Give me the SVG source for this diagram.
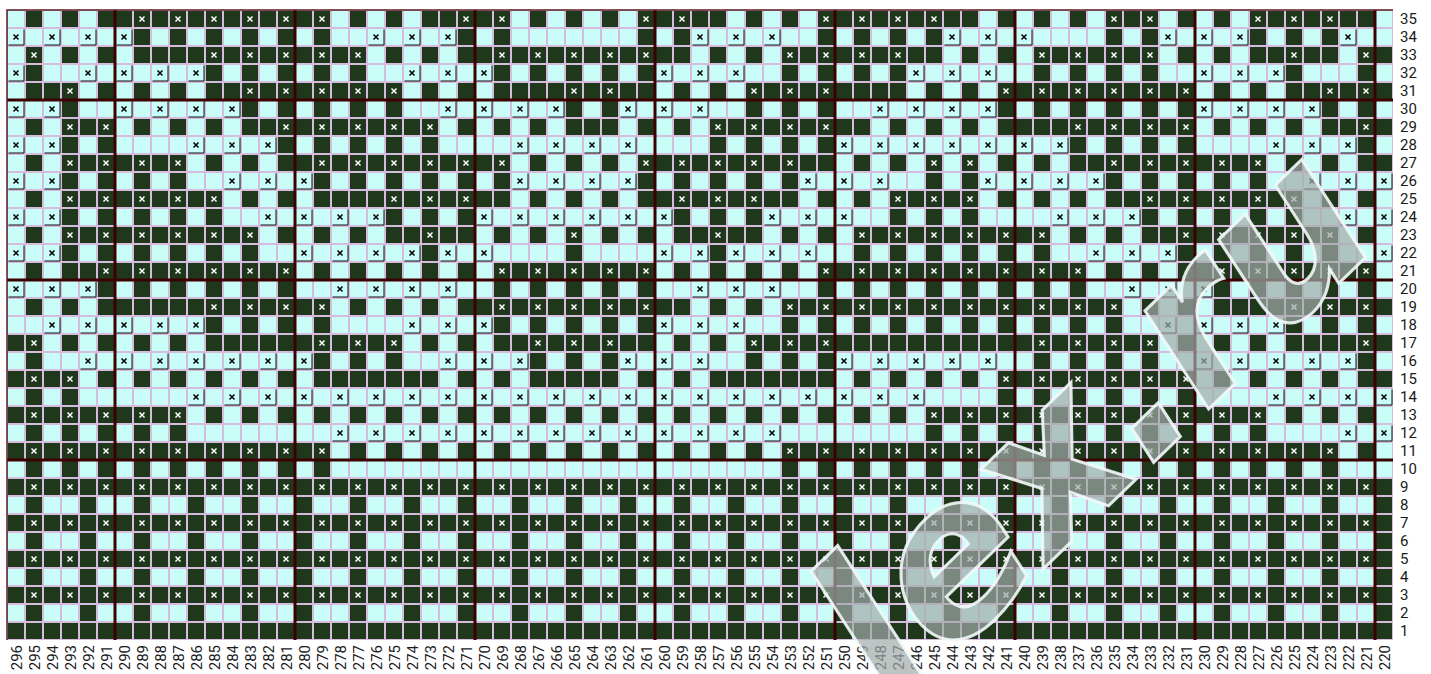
<svg xmlns="http://www.w3.org/2000/svg" width="1431" height="674" viewBox="0 0 1431 674">
<style>
.lt{fill:#c8fdf8}
.dk{fill:none;stroke:#1f381c;stroke-width:18}
.dkf{fill:#1f381c}
.thk{stroke:#3d0000;stroke-width:3;fill:none}
.lbl{font-family:Roboto,"Liberation Sans",sans-serif;font-size:15px;fill:#1a1a1a}
.wm{font-family:"DejaVu Sans",sans-serif;font-weight:bold;font-style:italic;font-size:210px;fill:#a3abaa;fill-opacity:.7;stroke:#f2faf9;stroke-width:3;stroke-opacity:.9}
</style>
<defs>
<pattern id="gp" x="7" y="10" width="18" height="18" patternUnits="userSpaceOnUse"><path d="M0 0H18M0 18H18M0 0V18M18 0V18" stroke="#d5bcdc" stroke-width="2" fill="none"/></pattern>
<g id="xd"><path d="M6.5 6.5l5 5M11.5 6.5l-5 5" stroke="#fff" stroke-width="1.5"/></g>
<g id="xl"><path d="M17 1.5V17H1.5" stroke="#111" stroke-width="1" fill="none"/><path d="M6.5 6.5l5 5M11.5 6.5l-5 5" stroke="#000" stroke-width="1.5"/></g>
<pattern id="xp" x="7" y="10" width="36" height="18" patternUnits="userSpaceOnUse"><use href="#xd" x="18"/></pattern>
</defs>
<rect class="lt" x="7" y="10" width="1386" height="630"/>
<g id="dark-cells">
<path class="dk" pathLength="77" d="M7 19h1386" stroke-dasharray="0 1,1 1,1 1,13 1,1 1,1 1,5 1,1 1,1 1,1 1,5 1,1 1,1 1,9 1,1 1,1 1,1 1,3 1,1 1,1 1,7 1"/>
<path class="dk" pathLength="77" d="M7 37h1386" stroke-dasharray="0 7,1 1,1 1,1 1,1 1,1 1,1 7,1 1,1 7,1 1,1 7,1 1,1 1,1 1,1 9,1 1,1 5,1 1,1 1,1 3"/>
<path class="dk" pathLength="77" d="M7 55h1386" stroke-dasharray="0 1,1 1,1 1,1 1,13 1,1 1,1 1,13 1,1 1,1 1,9 1,1 1,1 1,7 1,1 1,1 1,5 1,2 0"/>
<path class="dk" pathLength="77" d="M7 73h1386" stroke-dasharray="0 1,1 9,1 1,1 1,1 1,1 1,1 7,1 1,1 1,1 1,1 1,1 7,1 1,1 1,1 1,1 7,1 1,1 1,1 1,1 7,1 3,1 1"/>
<path class="dk" pathLength="77" d="M7 91h1386" stroke-dasharray="0 1,3 1,1 1,1 1,1 1,11 1,1 1,1 1,9 1,1 1,1 1,9 1,1 1,1 1,11 1,1 1,1 1,6 0"/>
<path class="dk" pathLength="77" d="M7 109h1386" stroke-dasharray="0 3,1 9,1 1,1 1,1 1,1 1,1 9,1 1,1 7,1 1,1 1,1 9,1 1,1 1,1 1,1 1,1 1,1 7,1 1,1 1"/>
<path class="dk" pathLength="77" d="M7 127h1386" stroke-dasharray="0 1,1 1,3 1,1 1,1 1,1 1,11 1,1 1,1 1,1 1,3 1,1 1,1 1,9 1,1 1,1 1,1 1,11 1,1 1,1 1,1 1,4 0"/>
<path class="dk" pathLength="77" d="M7 145h1386" stroke-dasharray="0 3,1 1,1 9,1 1,1 1,1 1,1 1,1 15,1 1,1 1,1 1,1 13,1 1,1 1,1 1,1 9,1 1"/>
<path class="dk" pathLength="77" d="M7 163h1386" stroke-dasharray="0 1,1 1,7 1,1 1,1 1,13 1,1 1,1 1,1 1,11 1,1 1,1 1,1 1,1 1,1 1,1 1,11 1,1 1,1 1,2 0"/>
<path class="dk" pathLength="77" d="M7 181h1386" stroke-dasharray="0 3,1 1,1 1,1 1,1 7,1 1,1 1,1 1,1 1,1 1,1 7,1 1,1 1,1 1,1 1,1 7,1 1,1 7,1 1,1 1,1 1,1 1,1 7"/>
<path class="dk" pathLength="77" d="M7 199h1386" stroke-dasharray="0 1,1 1,9 1,1 1,1 1,11 1,1 1,1 1,1 1,9 1,1 1,1 1,5 1,1 1,1 1,1 1,11 1,1 1,1 1"/>
<path class="dk" pathLength="77" d="M7 217h1386" stroke-dasharray="0 3,1 1,1 1,1 1,1 1,1 9,1 1,1 1,1 11,1 1,1 1,1 7,1 1,1 1,1 9,1 1,1 1,1 1,1 1,1 5"/>
<path class="dk" pathLength="77" d="M7 235h1386" stroke-dasharray="0 1,1 1,11 1,1 1,1 1,1 1,5 1,1 1,1 1,1 1,1 1,1 1,5 1,1 1,1 1,11 1,1 1,1 1,11 1,1 1"/>
<path class="dk" pathLength="77" d="M7 253h1386" stroke-dasharray="0 3,1 1,1 1,1 1,1 1,1 1,1 9,1 7,1 7,1 7,1 1,1 1,1 1,1 1,1 1,1 7,1 1,1 1,1 1,1 1,1 3"/>
<path class="dk" pathLength="77" d="M7 271h1386" stroke-dasharray="0 1,1 1,13 1,1 1,1 1,1 1,1 1,1 1,9 1,1 1,1 1,1 1,1 1,15 1,1 1,1 1,11 1"/>
<path class="dk" pathLength="77" d="M7 289h1386" stroke-dasharray="0 5,1 1,1 1,1 1,1 1,1 1,1 11,1 1,1 1,1 1,1 1,1 9,1 1,1 1,1 1,1 1,1 1,1 1,1 1,1 7,1 1,1 1,1 1,1 1,1 1"/>
<path class="dk" pathLength="77" d="M7 307h1386" stroke-dasharray="0 1,1 1,1 1,13 1,1 1,1 1,1 1,13 1,1 1,1 1,19 1,1 1,1 1,10 0"/>
<path class="dk" pathLength="77" d="M7 325h1386" stroke-dasharray="0 11,1 1,1 1,1 1,1 9,1 1,1 1,1 1,1 1,1 7,1 1,1 1,1 1,1 1,1 1,1 1,1 1,1 1,1 1,1 9,1 1,1 1,1 1"/>
<path class="dk" pathLength="77" d="M7 343h1386" stroke-dasharray="2 1,1 1,1 1,1 1,1 1,11 1,1 1,1 1,9 1,1 1,1 1,23 1,1 1,1 1,1 1,6 0"/>
<path class="dk" pathLength="77" d="M7 361h1386" stroke-dasharray="0 1,1 15,1 1,1 1,1 7,1 1,1 1,1 7,1 1,1 1,1 11,1 1,1 1,1 1,1 11,1 1"/>
<path class="dk" pathLength="77" d="M7 379h1386" stroke-dasharray="4 1,1 1,1 1,1 1,1 1,1 1,1 1,7 1,1 1,1 1,5 1,1 1,1 1,7 1,1 1,1 1,1 1,1 1,11 1,1 1,1 1,1 1,1 1,2 0"/>
<path class="dk" pathLength="77" d="M7 397h1386" stroke-dasharray="0 1,1 1,1 51,1 1,1 1,1 1,1 1,1 1,1 11"/>
<path class="dk" pathLength="77" d="M7 415h1386" stroke-dasharray="10 1,1 1,1 1,1 1,1 1,1 1,1 1,1 1,1 1,1 1,1 1,1 1,1 1,1 1,1 1,1 1,1 1,1 1,1 1,1 1,1 1,19 1,1 1,1 1,1 1"/>
<path class="dk" pathLength="77" d="M7 433h1386" stroke-dasharray="0 1,1 1,1 1,1 1,1 1,1 41,1 1,1 1,1 1,1 1,1 1,1 1,1 1,1 1,1 1,1 7"/>
<path class="dk" pathLength="77" d="M7 451h1386" stroke-dasharray="18 1,1 1,1 1,1 1,1 1,1 1,1 1,1 1,1 1,1 1,1 1,1 1,1 1,31 1,1 1"/>
<path class="dk" pathLength="77" d="M7 469h1386" stroke-dasharray="0 1,1 1,1 1,1 1,1 1,1 1,1 1,1 1,1 1,1 25,1 1,1 1,1 1,1 1,1 1,1 1,1 1,1 1,1 1,1 1,1 1,1 1,1 1,1 1,1 1,1 3"/>
<rect class="dkf" x="7" y="478" width="1386" height="18"/>
<path class="dk" pathLength="77" d="M7 505h1386" stroke-dasharray="0 1 1 1"/>
<rect class="dkf" x="7" y="514" width="1386" height="18"/>
<path class="dk" pathLength="77" d="M7 541h1386" stroke-dasharray="0 1 1 1"/>
<rect class="dkf" x="7" y="550" width="1386" height="18"/>
<path class="dk" pathLength="77" d="M7 577h1386" stroke-dasharray="0 1 1 1"/>
<rect class="dkf" x="7" y="586" width="1386" height="18"/>
<path class="dk" pathLength="77" d="M7 613h1386" stroke-dasharray="0 1 1 1"/>
<rect class="dkf" x="7" y="622" width="1386" height="18"/>
</g>
<rect id="grid-lines" x="7" y="10" width="1386" height="630" fill="url(#gp)"/>
<g id="marks">
<g transform="translate(0,10)"><use href="#xd" x="133"/><use href="#xd" x="169"/><use href="#xd" x="205"/><use href="#xd" x="241"/><use href="#xd" x="277"/><use href="#xd" x="313"/><use href="#xd" x="457"/><use href="#xd" x="493"/><use href="#xd" x="637"/><use href="#xd" x="673"/><use href="#xd" x="817"/><use href="#xd" x="853"/><use href="#xd" x="889"/><use href="#xd" x="925"/><use href="#xd" x="1105"/><use href="#xd" x="1141"/><use href="#xd" x="1249"/><use href="#xd" x="1285"/><use href="#xd" x="1321"/></g>
<g transform="translate(0,28)"><use href="#xl" x="7"/><use href="#xl" x="43"/><use href="#xl" x="79"/><use href="#xl" x="115"/><use href="#xl" x="367"/><use href="#xl" x="403"/><use href="#xl" x="439"/><use href="#xl" x="691"/><use href="#xl" x="727"/><use href="#xl" x="763"/><use href="#xl" x="943"/><use href="#xl" x="979"/><use href="#xl" x="1015"/><use href="#xl" x="1159"/><use href="#xl" x="1195"/><use href="#xl" x="1231"/><use href="#xl" x="1339"/></g>
<g transform="translate(0,46)"><use href="#xd" x="25"/><use href="#xd" x="205"/><use href="#xd" x="241"/><use href="#xd" x="277"/><use href="#xd" x="313"/><use href="#xd" x="349"/><use href="#xd" x="493"/><use href="#xd" x="529"/><use href="#xd" x="565"/><use href="#xd" x="601"/><use href="#xd" x="637"/><use href="#xd" x="781"/><use href="#xd" x="817"/><use href="#xd" x="853"/><use href="#xd" x="889"/><use href="#xd" x="1033"/><use href="#xd" x="1069"/><use href="#xd" x="1105"/><use href="#xd" x="1141"/><use href="#xd" x="1285"/><use href="#xd" x="1357"/></g>
<g transform="translate(0,64)"><use href="#xl" x="7"/><use href="#xl" x="79"/><use href="#xl" x="115"/><use href="#xl" x="151"/><use href="#xl" x="187"/><use href="#xl" x="403"/><use href="#xl" x="439"/><use href="#xl" x="475"/><use href="#xl" x="655"/><use href="#xl" x="691"/><use href="#xl" x="727"/><use href="#xl" x="907"/><use href="#xl" x="943"/><use href="#xl" x="979"/><use href="#xl" x="1195"/><use href="#xl" x="1231"/><use href="#xl" x="1267"/></g>
<g transform="translate(0,82)"><use href="#xd" x="61"/><use href="#xd" x="241"/><use href="#xd" x="277"/><use href="#xd" x="313"/><use href="#xd" x="349"/><use href="#xd" x="385"/><use href="#xd" x="565"/><use href="#xd" x="601"/><use href="#xd" x="745"/><use href="#xd" x="781"/><use href="#xd" x="817"/><use href="#xd" x="997"/><use href="#xd" x="1033"/><use href="#xd" x="1069"/><use href="#xd" x="1105"/><use href="#xd" x="1141"/><use href="#xd" x="1177"/><use href="#xd" x="1321"/><use href="#xd" x="1357"/></g>
<g transform="translate(0,100)"><use href="#xl" x="7"/><use href="#xl" x="43"/><use href="#xl" x="115"/><use href="#xl" x="151"/><use href="#xl" x="187"/><use href="#xl" x="223"/><use href="#xl" x="439"/><use href="#xl" x="475"/><use href="#xl" x="511"/><use href="#xl" x="547"/><use href="#xl" x="619"/><use href="#xl" x="655"/><use href="#xl" x="691"/><use href="#xl" x="871"/><use href="#xl" x="907"/><use href="#xl" x="943"/><use href="#xl" x="979"/><use href="#xl" x="1195"/><use href="#xl" x="1231"/><use href="#xl" x="1267"/><use href="#xl" x="1303"/></g>
<g transform="translate(0,118)"><use href="#xd" x="61"/><use href="#xd" x="97"/><use href="#xd" x="277"/><use href="#xd" x="313"/><use href="#xd" x="349"/><use href="#xd" x="385"/><use href="#xd" x="421"/><use href="#xd" x="709"/><use href="#xd" x="745"/><use href="#xd" x="781"/><use href="#xd" x="817"/><use href="#xd" x="1069"/><use href="#xd" x="1105"/><use href="#xd" x="1141"/><use href="#xd" x="1177"/><use href="#xd" x="1357"/></g>
<g transform="translate(0,136)"><use href="#xl" x="7"/><use href="#xl" x="43"/><use href="#xl" x="187"/><use href="#xl" x="223"/><use href="#xl" x="259"/><use href="#xl" x="511"/><use href="#xl" x="547"/><use href="#xl" x="583"/><use href="#xl" x="619"/><use href="#xl" x="835"/><use href="#xl" x="871"/><use href="#xl" x="907"/><use href="#xl" x="943"/><use href="#xl" x="979"/><use href="#xl" x="1015"/><use href="#xl" x="1051"/><use href="#xl" x="1267"/><use href="#xl" x="1303"/><use href="#xl" x="1339"/></g>
<g transform="translate(0,154)"><use href="#xd" x="61"/><use href="#xd" x="97"/><use href="#xd" x="133"/><use href="#xd" x="169"/><use href="#xd" x="313"/><use href="#xd" x="349"/><use href="#xd" x="385"/><use href="#xd" x="421"/><use href="#xd" x="457"/><use href="#xd" x="493"/><use href="#xd" x="637"/><use href="#xd" x="673"/><use href="#xd" x="709"/><use href="#xd" x="745"/><use href="#xd" x="781"/><use href="#xd" x="925"/><use href="#xd" x="961"/><use href="#xd" x="1105"/><use href="#xd" x="1141"/><use href="#xd" x="1177"/><use href="#xd" x="1213"/><use href="#xd" x="1249"/></g>
<g transform="translate(0,172)"><use href="#xl" x="7"/><use href="#xl" x="43"/><use href="#xl" x="223"/><use href="#xl" x="259"/><use href="#xl" x="295"/><use href="#xl" x="511"/><use href="#xl" x="547"/><use href="#xl" x="583"/><use href="#xl" x="619"/><use href="#xl" x="799"/><use href="#xl" x="835"/><use href="#xl" x="871"/><use href="#xl" x="979"/><use href="#xl" x="1015"/><use href="#xl" x="1051"/><use href="#xl" x="1087"/><use href="#xl" x="1303"/><use href="#xl" x="1339"/><use href="#xl" x="1375"/></g>
<g transform="translate(0,190)"><use href="#xd" x="61"/><use href="#xd" x="97"/><use href="#xd" x="133"/><use href="#xd" x="169"/><use href="#xd" x="205"/><use href="#xd" x="385"/><use href="#xd" x="421"/><use href="#xd" x="457"/><use href="#xd" x="673"/><use href="#xd" x="709"/><use href="#xd" x="745"/><use href="#xd" x="889"/><use href="#xd" x="925"/><use href="#xd" x="961"/><use href="#xd" x="1141"/><use href="#xd" x="1177"/><use href="#xd" x="1213"/><use href="#xd" x="1249"/><use href="#xd" x="1285"/></g>
<g transform="translate(0,208)"><use href="#xl" x="7"/><use href="#xl" x="43"/><use href="#xl" x="259"/><use href="#xl" x="295"/><use href="#xl" x="331"/><use href="#xl" x="367"/><use href="#xl" x="475"/><use href="#xl" x="511"/><use href="#xl" x="547"/><use href="#xl" x="583"/><use href="#xl" x="619"/><use href="#xl" x="655"/><use href="#xl" x="763"/><use href="#xl" x="799"/><use href="#xl" x="835"/><use href="#xl" x="1051"/><use href="#xl" x="1087"/><use href="#xl" x="1123"/><use href="#xl" x="1339"/><use href="#xl" x="1375"/></g>
<g transform="translate(0,226)"><use href="#xd" x="61"/><use href="#xd" x="97"/><use href="#xd" x="133"/><use href="#xd" x="169"/><use href="#xd" x="205"/><use href="#xd" x="241"/><use href="#xd" x="421"/><use href="#xd" x="565"/><use href="#xd" x="709"/><use href="#xd" x="853"/><use href="#xd" x="889"/><use href="#xd" x="925"/><use href="#xd" x="961"/><use href="#xd" x="997"/><use href="#xd" x="1033"/><use href="#xd" x="1177"/><use href="#xd" x="1213"/><use href="#xd" x="1249"/><use href="#xd" x="1285"/><use href="#xd" x="1321"/></g>
<g transform="translate(0,244)"><use href="#xl" x="7"/><use href="#xl" x="43"/><use href="#xl" x="295"/><use href="#xl" x="331"/><use href="#xl" x="367"/><use href="#xl" x="403"/><use href="#xl" x="439"/><use href="#xl" x="475"/><use href="#xl" x="655"/><use href="#xl" x="691"/><use href="#xl" x="727"/><use href="#xl" x="763"/><use href="#xl" x="799"/><use href="#xl" x="1087"/><use href="#xl" x="1123"/><use href="#xl" x="1159"/><use href="#xl" x="1375"/></g>
<g transform="translate(0,262)"><use href="#xd" x="97"/><use href="#xd" x="133"/><use href="#xd" x="169"/><use href="#xd" x="205"/><use href="#xd" x="241"/><use href="#xd" x="277"/><use href="#xd" x="493"/><use href="#xd" x="529"/><use href="#xd" x="565"/><use href="#xd" x="601"/><use href="#xd" x="637"/><use href="#xd" x="817"/><use href="#xd" x="853"/><use href="#xd" x="889"/><use href="#xd" x="925"/><use href="#xd" x="961"/><use href="#xd" x="997"/><use href="#xd" x="1033"/><use href="#xd" x="1069"/><use href="#xd" x="1213"/><use href="#xd" x="1249"/><use href="#xd" x="1285"/><use href="#xd" x="1321"/><use href="#xd" x="1357"/></g>
<g transform="translate(0,280)"><use href="#xl" x="7"/><use href="#xl" x="43"/><use href="#xl" x="79"/><use href="#xl" x="331"/><use href="#xl" x="367"/><use href="#xl" x="403"/><use href="#xl" x="439"/><use href="#xl" x="691"/><use href="#xl" x="727"/><use href="#xl" x="763"/><use href="#xl" x="1123"/><use href="#xl" x="1159"/><use href="#xl" x="1195"/></g>
<g transform="translate(0,298)"><use href="#xd" x="205"/><use href="#xd" x="241"/><use href="#xd" x="277"/><use href="#xd" x="313"/><use href="#xd" x="493"/><use href="#xd" x="529"/><use href="#xd" x="565"/><use href="#xd" x="601"/><use href="#xd" x="637"/><use href="#xd" x="781"/><use href="#xd" x="817"/><use href="#xd" x="853"/><use href="#xd" x="889"/><use href="#xd" x="925"/><use href="#xd" x="961"/><use href="#xd" x="997"/><use href="#xd" x="1033"/><use href="#xd" x="1069"/><use href="#xd" x="1105"/><use href="#xd" x="1285"/><use href="#xd" x="1321"/><use href="#xd" x="1357"/></g>
<g transform="translate(0,316)"><use href="#xl" x="43"/><use href="#xl" x="79"/><use href="#xl" x="115"/><use href="#xl" x="151"/><use href="#xl" x="187"/><use href="#xl" x="403"/><use href="#xl" x="439"/><use href="#xl" x="475"/><use href="#xl" x="655"/><use href="#xl" x="691"/><use href="#xl" x="727"/><use href="#xl" x="1159"/><use href="#xl" x="1195"/><use href="#xl" x="1231"/><use href="#xl" x="1267"/></g>
<g transform="translate(0,334)"><use href="#xd" x="25"/><use href="#xd" x="313"/><use href="#xd" x="349"/><use href="#xd" x="385"/><use href="#xd" x="529"/><use href="#xd" x="565"/><use href="#xd" x="601"/><use href="#xd" x="745"/><use href="#xd" x="781"/><use href="#xd" x="817"/><use href="#xd" x="1033"/><use href="#xd" x="1069"/><use href="#xd" x="1105"/><use href="#xd" x="1141"/><use href="#xd" x="1357"/></g>
<g transform="translate(0,352)"><use href="#xl" x="79"/><use href="#xl" x="115"/><use href="#xl" x="151"/><use href="#xl" x="187"/><use href="#xl" x="223"/><use href="#xl" x="259"/><use href="#xl" x="295"/><use href="#xl" x="439"/><use href="#xl" x="475"/><use href="#xl" x="511"/><use href="#xl" x="619"/><use href="#xl" x="655"/><use href="#xl" x="691"/><use href="#xl" x="835"/><use href="#xl" x="871"/><use href="#xl" x="907"/><use href="#xl" x="943"/><use href="#xl" x="979"/><use href="#xl" x="1195"/><use href="#xl" x="1231"/><use href="#xl" x="1267"/><use href="#xl" x="1303"/><use href="#xl" x="1339"/></g>
<g transform="translate(0,370)"><use href="#xd" x="25"/><use href="#xd" x="61"/><use href="#xd" x="997"/><use href="#xd" x="1033"/><use href="#xd" x="1069"/><use href="#xd" x="1105"/><use href="#xd" x="1141"/><use href="#xd" x="1177"/></g>
<g transform="translate(0,388)"><use href="#xl" x="187"/><use href="#xl" x="223"/><use href="#xl" x="259"/><use href="#xl" x="295"/><use href="#xl" x="331"/><use href="#xl" x="367"/><use href="#xl" x="403"/><use href="#xl" x="439"/><use href="#xl" x="475"/><use href="#xl" x="511"/><use href="#xl" x="547"/><use href="#xl" x="583"/><use href="#xl" x="619"/><use href="#xl" x="655"/><use href="#xl" x="691"/><use href="#xl" x="727"/><use href="#xl" x="763"/><use href="#xl" x="799"/><use href="#xl" x="835"/><use href="#xl" x="871"/><use href="#xl" x="907"/><use href="#xl" x="1267"/><use href="#xl" x="1303"/><use href="#xl" x="1339"/><use href="#xl" x="1375"/></g>
<g transform="translate(0,406)"><use href="#xd" x="25"/><use href="#xd" x="61"/><use href="#xd" x="97"/><use href="#xd" x="133"/><use href="#xd" x="169"/><use href="#xd" x="925"/><use href="#xd" x="961"/><use href="#xd" x="997"/><use href="#xd" x="1033"/><use href="#xd" x="1069"/><use href="#xd" x="1105"/><use href="#xd" x="1141"/><use href="#xd" x="1177"/><use href="#xd" x="1213"/><use href="#xd" x="1249"/></g>
<g transform="translate(0,424)"><use href="#xl" x="331"/><use href="#xl" x="367"/><use href="#xl" x="403"/><use href="#xl" x="439"/><use href="#xl" x="475"/><use href="#xl" x="511"/><use href="#xl" x="547"/><use href="#xl" x="583"/><use href="#xl" x="619"/><use href="#xl" x="655"/><use href="#xl" x="691"/><use href="#xl" x="727"/><use href="#xl" x="763"/><use href="#xl" x="1339"/><use href="#xl" x="1375"/></g>
<g transform="translate(0,442)"><use href="#xd" x="25"/><use href="#xd" x="61"/><use href="#xd" x="97"/><use href="#xd" x="133"/><use href="#xd" x="169"/><use href="#xd" x="205"/><use href="#xd" x="241"/><use href="#xd" x="277"/><use href="#xd" x="313"/><use href="#xd" x="781"/><use href="#xd" x="817"/><use href="#xd" x="853"/><use href="#xd" x="889"/><use href="#xd" x="925"/><use href="#xd" x="961"/><use href="#xd" x="997"/><use href="#xd" x="1033"/><use href="#xd" x="1069"/><use href="#xd" x="1105"/><use href="#xd" x="1141"/><use href="#xd" x="1177"/><use href="#xd" x="1213"/><use href="#xd" x="1249"/><use href="#xd" x="1285"/><use href="#xd" x="1321"/></g>
<rect x="7" y="478" width="1386" height="18" fill="url(#xp)"/>
<rect x="7" y="514" width="1386" height="18" fill="url(#xp)"/>
<rect x="7" y="550" width="1386" height="18" fill="url(#xp)"/>
<rect x="7" y="586" width="1386" height="18" fill="url(#xp)"/>
</g>
<path id="block-lines" class="thk" d="M115 10V640M295 10V640M475 10V640M655 10V640M835 10V640M1015 10V640M1195 10V640M1375 10V640M7 100H1393M7 280H1393M7 460H1393"/>
<path d="M7 640V10H1393" stroke="#5b1d24" stroke-width="1.5" fill="none"/>
<g id="row-labels" class="lbl">
<text x="1400" y="24">35</text><text x="1400" y="42">34</text><text x="1400" y="60">33</text><text x="1400" y="78">32</text><text x="1400" y="96">31</text><text x="1400" y="114">30</text><text x="1400" y="132">29</text><text x="1400" y="150">28</text><text x="1400" y="168">27</text><text x="1400" y="186">26</text><text x="1400" y="204">25</text><text x="1400" y="222">24</text><text x="1400" y="240">23</text><text x="1400" y="258">22</text><text x="1400" y="276">21</text><text x="1400" y="294">20</text><text x="1400" y="312">19</text><text x="1400" y="330">18</text><text x="1400" y="348">17</text><text x="1400" y="366">16</text><text x="1400" y="384">15</text><text x="1400" y="402">14</text><text x="1400" y="420">13</text><text x="1400" y="438">12</text><text x="1400" y="456">11</text><text x="1400" y="474">10</text><text x="1400" y="492">9</text><text x="1400" y="510">8</text><text x="1400" y="528">7</text><text x="1400" y="546">6</text><text x="1400" y="564">5</text><text x="1400" y="582">4</text><text x="1400" y="600">3</text><text x="1400" y="618">2</text><text x="1400" y="636">1</text>
</g>
<g id="col-labels" class="lbl" transform="rotate(-90)" text-anchor="end">
<text x="-645" y="21.5">296</text><text x="-645" y="39.5">295</text><text x="-645" y="57.5">294</text><text x="-645" y="75.5">293</text><text x="-645" y="93.5">292</text><text x="-645" y="111.5">291</text><text x="-645" y="129.5">290</text><text x="-645" y="147.5">289</text><text x="-645" y="165.5">288</text><text x="-645" y="183.5">287</text><text x="-645" y="201.5">286</text><text x="-645" y="219.5">285</text><text x="-645" y="237.5">284</text><text x="-645" y="255.5">283</text><text x="-645" y="273.5">282</text><text x="-645" y="291.5">281</text><text x="-645" y="309.5">280</text><text x="-645" y="327.5">279</text><text x="-645" y="345.5">278</text><text x="-645" y="363.5">277</text><text x="-645" y="381.5">276</text><text x="-645" y="399.5">275</text><text x="-645" y="417.5">274</text><text x="-645" y="435.5">273</text><text x="-645" y="453.5">272</text><text x="-645" y="471.5">271</text><text x="-645" y="489.5">270</text><text x="-645" y="507.5">269</text><text x="-645" y="525.5">268</text><text x="-645" y="543.5">267</text><text x="-645" y="561.5">266</text><text x="-645" y="579.5">265</text><text x="-645" y="597.5">264</text><text x="-645" y="615.5">263</text><text x="-645" y="633.5">262</text><text x="-645" y="651.5">261</text><text x="-645" y="669.5">260</text><text x="-645" y="687.5">259</text><text x="-645" y="705.5">258</text><text x="-645" y="723.5">257</text><text x="-645" y="741.5">256</text><text x="-645" y="759.5">255</text><text x="-645" y="777.5">254</text><text x="-645" y="795.5">253</text><text x="-645" y="813.5">252</text><text x="-645" y="831.5">251</text><text x="-645" y="849.5">250</text><text x="-645" y="867.5">249</text><text x="-645" y="885.5">248</text><text x="-645" y="903.5">247</text><text x="-645" y="921.5">246</text><text x="-645" y="939.5">245</text><text x="-645" y="957.5">244</text><text x="-645" y="975.5">243</text><text x="-645" y="993.5">242</text><text x="-645" y="1011.5">241</text><text x="-645" y="1029.5">240</text><text x="-645" y="1047.5">239</text><text x="-645" y="1065.5">238</text><text x="-645" y="1083.5">237</text><text x="-645" y="1101.5">236</text><text x="-645" y="1119.5">235</text><text x="-645" y="1137.5">234</text><text x="-645" y="1155.5">233</text><text x="-645" y="1173.5">232</text><text x="-645" y="1191.5">231</text><text x="-645" y="1209.5">230</text><text x="-645" y="1227.5">229</text><text x="-645" y="1245.5">228</text><text x="-645" y="1263.5">227</text><text x="-645" y="1281.5">226</text><text x="-645" y="1299.5">225</text><text x="-645" y="1317.5">224</text><text x="-645" y="1335.5">223</text><text x="-645" y="1353.5">222</text><text x="-645" y="1371.5">221</text><text x="-645" y="1389.5">220</text>
</g>
<text id="watermark" class="wm" transform="translate(895,712) rotate(-44)">lex.ru</text>
</svg>
